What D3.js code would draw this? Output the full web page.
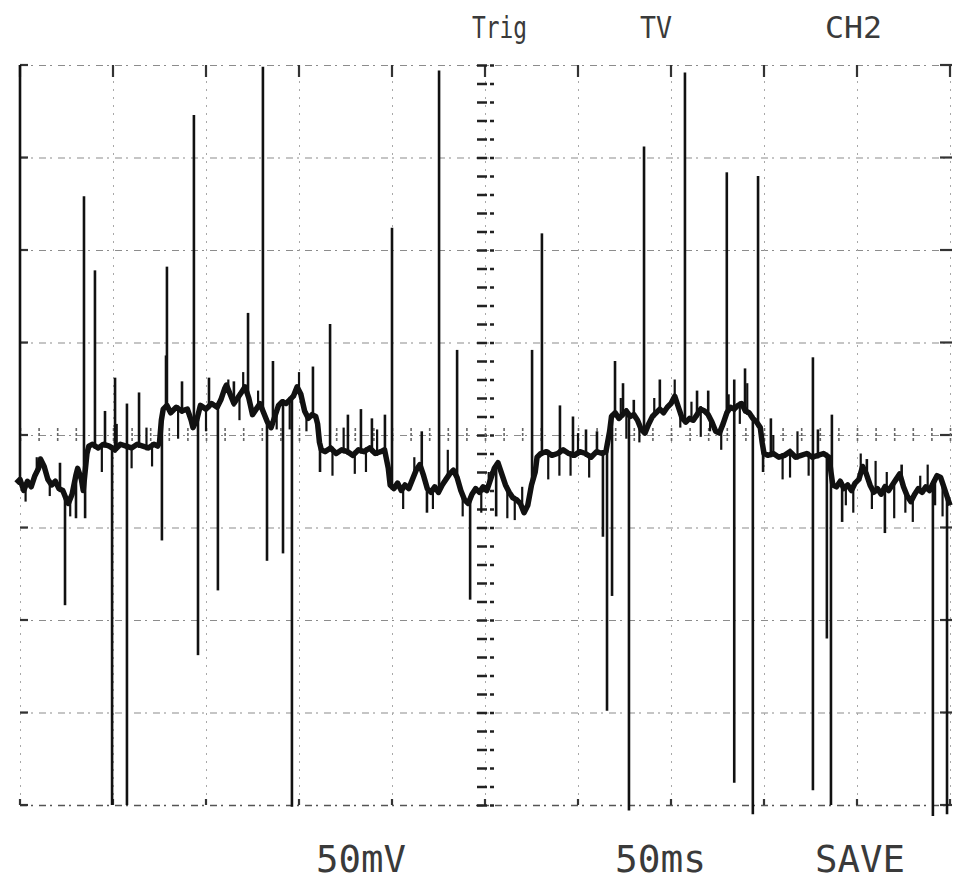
<!DOCTYPE html>
<html>
<head>
<meta charset="utf-8">
<script src="https://cdn.jsdelivr.net/npm/d3@7/dist/d3.min.js"></script>
<style>
  body { margin: 0; background: #fff; }
  #scope { width: 960px; height: 883px; }
  .label { font-family: "DejaVu Sans Mono", monospace; fill: #3a3a3a; }
</style>
</head>
<body>
<div id="scope"></div>
<script>
// scope screen: 50 mV / div, 50 ms / div
const timeTicks = [0, 50, 100, 150, 200, 250, 300, 350, 400, 450, 500];
const voltTicks = [-200, -150, -100, -50, 0, 50, 100, 150, 200];
const topLabels = ["Trig", "TV", "CH2"];
const bottomLabels = ["50mV", "50ms", "SAVE"];

// trace [ms, mV]
const trace = [
  [-2,-26],[0,-24],[2,-30],[4,-25],[6,-28],[8,-22],[10,-18],[11,-13],[13,-17],[15,-24],[17,-27],[19,-25],[21,-29],[23,-30],[25,-35],[26,-37],[28,-32],[30,-22],[31,-18],[33,-24],[34,-30],[35,-20],[36,-10],[37,-6],
  [39,-5],[42,-7],[45,-5],[48,-6],[51,-8],[54,-5],[57,-6],[60,-7],[63,-5],[66,-6],[69,-7],[72,-5],[74,-6],[75,-4],[76,8],[77,14],
  [79,16],[81,12],[84,15],[87,13],[90,14],[92,8],[93,4],[95,8],[97,16],[100,14],[103,17],[106,15],[108,19],[110,25],[111,27],[113,22],[115,17],[117,20],[119,23],[121,26],[123,20],[125,11],[127,14],[129,17],[131,12],[133,7],[135,4],[137,10],[139,16],[141,18],[143,17],[145,19],[147,21],[149,26],[151,22],[153,13],[155,9],[157,11],[159,10],[160,6],[161,-4],[162,-8],
  [164,-9],[167,-7],[170,-10],[173,-8],[176,-9],[179,-11],[182,-8],[185,-9],[188,-7],[191,-10],[194,-9],[196,-8],[198,-18],[199,-27],
  [201,-29],[203,-26],[205,-30],[207,-27],[209,-29],[211,-24],[213,-19],[215,-16],[217,-22],[219,-29],[221,-31],[223,-28],[225,-31],[227,-27],[229,-24],[231,-21],[233,-19],[235,-23],[237,-30],[239,-35],[241,-37],[243,-32],[245,-29],[247,-31],[249,-28],[251,-30],[253,-24],[255,-18],[257,-15],[259,-21],[261,-27],[263,-31],[265,-34],[267,-35],[269,-37],[271,-42],[273,-38],[275,-27],[277,-20],[278,-12],[280,-10],
  [283,-9],[286,-11],[289,-10],[292,-8],[295,-10],[298,-11],[301,-9],[304,-10],[307,-12],[310,-9],[313,-10],[315,-9],[317,2],[318,10],
  [320,12],[322,9],[324,11],[326,13],[328,10],[330,11],[332,8],[334,3],[336,1],[338,6],[340,10],[342,12],[344,14],[346,12],[348,15],[350,17],[352,21],[354,15],[356,9],[358,7],[360,9],[362,8],[364,11],[366,14],[368,13],[370,11],[372,7],[374,2],[376,1],[378,6],[380,12],[382,15],[384,14],[386,16],[388,17],[390,13],[392,12],[394,9],[396,7],[398,4],[399,-4],[400,-10],
  [402,-11],[405,-10],[408,-12],[411,-11],[414,-9],[417,-12],[420,-11],[423,-10],[426,-12],[429,-11],[432,-10],[435,-12],[436,-20],[437,-27],
  [439,-28],[441,-25],[443,-29],[445,-27],[447,-30],[449,-26],[451,-24],[453,-17],[455,-21],[457,-27],[459,-31],[461,-29],[463,-32],[465,-28],[467,-30],[469,-27],[471,-24],[473,-21],[475,-28],[477,-33],[479,-36],[481,-32],[483,-29],[485,-31],[487,-28],[489,-30],[491,-26],[493,-22],[495,-23],[497,-29],[499,-35],[500,-38]
];

// glitch peaks [ms, mV]
const spikesUp = [
  [0,200],[34.4,129],[40.3,89],[45.7,13],[51.1,31],[57.5,17],[64,23],[21.5,-15],[78.5,43],[79,91],[87.1,29],[93.5,173],[101.6,31],[115,29],[122.6,66],[130.6,199],
  [136,40],[157.5,37],[166.7,60],[176.3,11],[183.3,14],[189.2,9],[196.2,11],[200,112],[216,2],[225.3,197],[235,46],[275.3,46],[280.6,109],[290.3,16],[297.3,10],
  [304.3,3],[310.2,2],[319.9,40],[324.2,28],[330,19],[335.5,156],[344,30],[357.5,196],[364,24],[370,24],[380,142],[384,30],[389.8,36],[396.8,140],[403.7,9],
  [426.3,42],[429,3],[436.5,11],[455.3,-13],[474,-16]
];
const spikesDown = [
  [24.2,-92],[30.1,-45],[35,-45],[49.5,-200],[57.5,-200],[76.3,-57],[95.7,-119],[106.4,-84],[132.8,-68],[141.4,-64],[146.2,-201],[161.3,-20],[218.8,-42],
  [242,-89],[256,-44],[313.4,-55],[315.6,-149],[318.3,-87],[327.4,-203],[384,-188],[394,-205],[399.5,-20],[426.3,-192],[433.8,-110],[436,-200],[442,-47],
  [465,-53],[490.8,-206],[498.4,-205]
];
const whiskers = [
  [44,-20],[52,6],[60,-18],[68,4],[71,-17],[168,-22],[174,4],[180,-21],[186,-20],[192,3],[284,-24],[290,-22],[296,-22],[300,1],[306,-23],
  [405,0],[410,-24],[414,-23],[418,2],[424,-22],[206,-40],[230,-8],[248,-42],[262,-45],[448,-42],[460,-14],[470,-45],[480,-47],[488,-16],[496,-44],
  [85,-2],[100,2],[120,34],[145,3],[326,-2],[352,30],[366,-1],[377,-8],[391,28],
  [3,-36],[9,-12],[16,-33],[27,-44],[112,30],[118,8],[128,24],[138,3],[150,34],[154,2],[212,-12],[222,-40],[238,-44],[252,-20],[266,-46],[270,-28],
  [323,20],[333,-4],[341,20],[355,4],[361,18],[371,2],[381,22],[387,6],[444,-38],[452,-10],[458,-40],[466,-20],[476,-42],[484,-22],[492,-38]
];

class Scope {
    divID = "scope";
    width = 960;
    height = 883;
    svg = null;
    x = null;
    y = null;

    init() {
        this.svg = d3.select("#" + this.divID)
            .append("svg")
            .attr("width", this.width)
            .attr("height", this.height);

        this.x = d3.scaleLinear().domain([0, 500]).range([20, 950]);
        this.y = d3.scaleLinear().domain([-200, 200]).range([805, 65]);
    }

    // trace level under a glitch
    baseAt(t) {
        var i = d3.bisector(d => d[0]).left(trace, t);
        if (i <= 0) return trace[0][1];
        if (i >= trace.length) return trace[trace.length - 1][1];
        var a = trace[i - 1], b = trace[i];
        return a[1] + (b[1] - a[1]) * (t - a[0]) / (b[0] - a[0]);
    }

    drawGrid() {
        var x = this.x, y = this.y;

        // horizontal divisions
        var gh = this.svg.append("g")
            .attr("transform", "translate(" + x(0) + ",0)")
            .call(d3.axisLeft(y).tickValues(voltTicks).tickSize(-(x(500) - x(0))).tickFormat(""));
        gh.select(".domain").remove();
        gh.selectAll(".tick line")
            .attr("stroke", d => d == -200 ? "#555" : "#8c8c8c")
            .attr("stroke-width", d => d == -200 ? 1.6 : 1.2)
            .attr("stroke-dasharray", "7,4,2,6");

        // vertical divisions
        var gv = this.svg.append("g")
            .attr("transform", "translate(0," + y(200) + ")")
            .call(d3.axisTop(x).tickValues(timeTicks).tickSize(-(y(-200) - y(200))).tickFormat(""));
        gv.select(".domain").remove();
        gv.selectAll(".tick line")
            .attr("stroke", "#a8a8a8")
            .attr("stroke-width", 1)
            .attr("stroke-dasharray", "2,6");

        // small marks where divisions meet the frame
        var marks = this.svg.append("g").attr("stroke", "#333").attr("stroke-width", 2.2);
        marks.selectAll(".mt").data(timeTicks).enter().append("line")
            .attr("x1", d => x(d)).attr("x2", d => x(d))
            .attr("y1", y(200)).attr("y2", y(200) + 12);
        marks.selectAll(".mb").data(timeTicks).enter().append("line")
            .attr("x1", d => x(d)).attr("x2", d => x(d))
            .attr("y1", y(-200) - 6).attr("y2", y(-200));
        marks.selectAll(".mr").data(voltTicks).enter().append("line")
            .attr("x1", x(500) - 10).attr("x2", x(500) + 2)
            .attr("y1", d => y(d)).attr("y2", d => y(d));
        marks.selectAll(".ml").data(voltTicks).enter().append("line")
            .attr("x1", x(0)).attr("x2", x(0) + 8)
            .attr("y1", d => y(d)).attr("y2", d => y(d));

        // centre vertical scale
        var cv = this.svg.append("g")
            .attr("transform", "translate(" + (x(250) - 8) + ",0)")
            .call(d3.axisRight(y).ticks(40).tickSize(20).tickFormat(""));
        cv.select(".domain").remove();
        cv.selectAll(".tick line")
            .attr("stroke", "#222")
            .attr("stroke-width", 2.6)
            .attr("stroke-dasharray", "10,3,4,3");

        // centre horizontal scale
        var ch = this.svg.append("g")
            .attr("transform", "translate(0," + (y(0) - 7) + ")")
            .call(d3.axisBottom(x).ticks(50).tickSize(15).tickFormat(""));
        ch.select(".domain").remove();
        ch.selectAll(".tick line")
            .attr("stroke", "#666")
            .attr("stroke-width", 1.6)
            .attr("stroke-dasharray", "3,2");
    }

    drawTrace() {
        var x = this.x, y = this.y;
        var line = d3.line().x(d => x(d[0])).y(d => y(d[1]));

        var spikes = this.svg.append("g").attr("stroke", "#111").attr("stroke-linecap", "butt");
        var self = this;
        var spikeLine = (sel, w) => sel.enter().append("line")
            .attr("x1", d => x(d[0])).attr("x2", d => x(d[0]))
            .attr("y1", d => y(self.baseAt(d[0])) + (d[1] > self.baseAt(d[0]) ? 3 : -3))
            .attr("y2", d => y(d[1]))
            .attr("stroke-width", w);
        spikeLine(spikes.selectAll(".up").data(spikesUp), 2.6);
        spikeLine(spikes.selectAll(".down").data(spikesDown), 2.6);
        spikeLine(spikes.selectAll(".wh").data(whiskers), 2.2);

        this.svg.append("path")
            .datum(trace)
            .attr("d", line)
            .attr("fill", "none")
            .attr("stroke", "#111")
            .attr("stroke-width", 5.5)
            .attr("stroke-linejoin", "round");
    }

    drawLabels() {
        // [left, right] of each label on the printout
        var topPos = [[472, 527], [640, 672], [825, 882]];
        var bottomPos = [[316, 406], [615, 706], [815, 905]];

        this.svg.selectAll(".tl").data(topLabels).enter().append("text")
            .attr("class", "label")
            .attr("x", (d, i) => topPos[i][0])
            .attr("y", 38)
            .attr("font-size", 30)
            .attr("fill", "#505050")
            .attr("textLength", (d, i) => topPos[i][1] - topPos[i][0])
            .attr("lengthAdjust", "spacingAndGlyphs")
            .text(d => d);

        this.svg.selectAll(".bl").data(bottomLabels).enter().append("text")
            .attr("class", "label")
            .attr("x", (d, i) => bottomPos[i][0])
            .attr("y", 872)
            .attr("font-size", 37)
            .attr("textLength", (d, i) => bottomPos[i][1] - bottomPos[i][0])
            .attr("lengthAdjust", "spacingAndGlyphs")
            .text(d => d);
    }
}

var scope = new Scope();
scope.init();
scope.drawGrid();
scope.drawTrace();
scope.drawLabels();
</script>
</body>
</html>
